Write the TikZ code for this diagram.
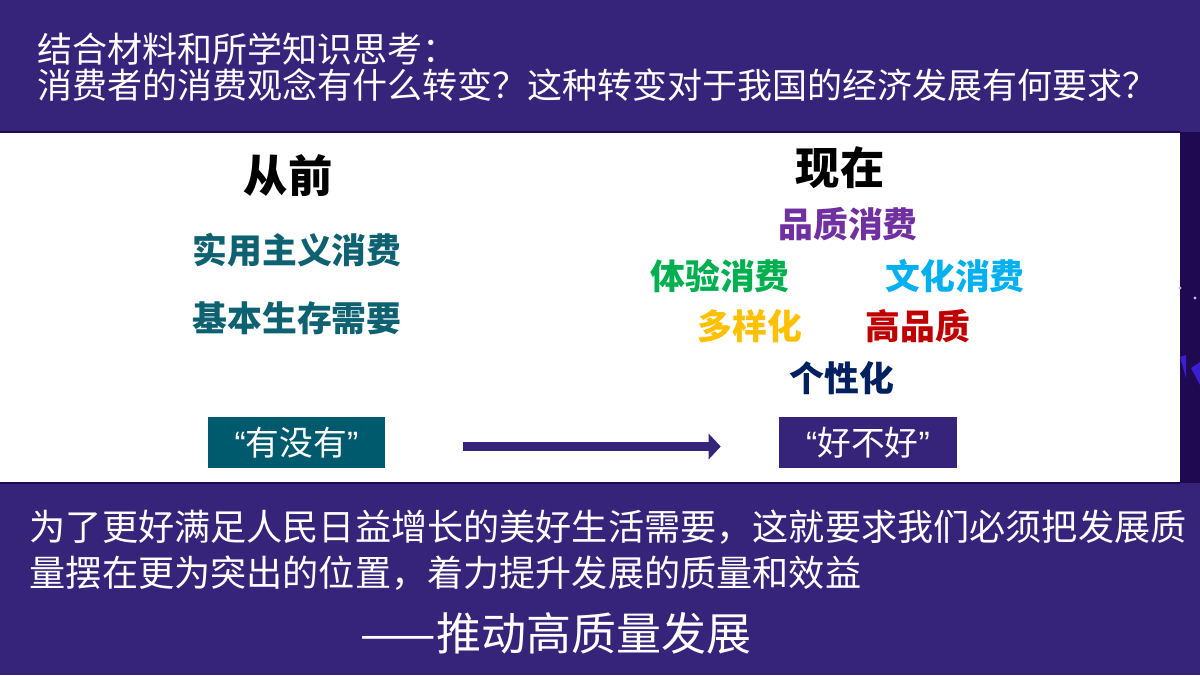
\documentclass[tikz,border=0pt]{standalone}
\usepackage{fontspec}
\usepackage{tikz}
\usepackage{xcolor}
\usetikzlibrary{arrows.meta,positioning}
\newfontfamily\cjk{Noto Sans CJK SC}
\newfontfamily\quotefont{Liberation Sans}
\definecolor{Deep}{HTML}{36237A}
\definecolor{Night}{HTML}{1F0A52}
\definecolor{Teal}{HTML}{005A6E}
\definecolor{TealText}{HTML}{0E6170}
\definecolor{Purple}{HTML}{7030A0}
\definecolor{Green}{HTML}{00B050}
\definecolor{Cyan}{HTML}{00B0F0}
\definecolor{Gold}{HTML}{FFC000}
\definecolor{Red}{HTML}{C00000}
\definecolor{Navy}{HTML}{002060}
\definecolor{Spark}{HTML}{3A1FD0}
\tikzset{
  head/.style={font=\cjk\bfseries\fontsize{12.6pt}{14pt}\selectfont,inner sep=0pt},
  item/.style={font=\cjk\bfseries\fontsize{9.9pt}{12pt}\selectfont,inner sep=0pt},
  tag/.style={font=\cjk\fontsize{9.6pt}{11pt}\selectfont,text=white,minimum width=1.77cm,minimum height=0.51cm,inner sep=0pt}
}

\begin{document}
\begin{tikzpicture}[x=0.01cm,y=-0.01cm]
  \useasboundingbox (0,0) rectangle (1200,675);
  % bands
  \fill[Deep] (0,0) rectangle (1200,132);
  \fill[Deep] (0,483) rectangle (1200,675);
  \fill[white] (0,132) rectangle (1180,483);
  \fill[Night] (1180,132) rectangle (1200,483);
  \draw[Night,line width=0.6pt] (0,132) -- (1180,132);
  \draw[Night,line width=0.6pt] (0,483) -- (1180,483);
  \fill[white!70!violet] (1180,288) circle (1.6);
  \fill[white!70!violet] (1195,298) circle (1.6);
  \fill[Spark] (1180,357) -- (1186,355) -- (1186,378) -- cycle;
  \fill[Spark] (1191,368) -- (1200,362) -- (1200,385) -- cycle;
  % question
  \node[anchor=west,align=left,inner sep=0pt,text=white,font=\cjk\fontsize{9.95pt}{10.25pt}\selectfont] (ask) at (37,67)
  {结合材料和所学知识思考：\\消费者的消费观念有什么转变？这种转变对于我国的经济发展有何要求？};
  % before
  \node[head] (before) at (288,176) {从前};
  \node[item,text=TealText] (practical) at (297,250) {实用主义消费};
  \node[item,text=TealText] (survival) at (297,318) {基本生存需要};
  \node[tag,fill=Teal] (have) at (296.5,442.5) {{\quotefont “}有没有{\quotefont ”}};
  % now
  \node[head] (now) at (840,168) {现在};
  \node[item,text=Purple] (quality) at (848,224) {品质消费};
  \node[item,text=Green] (experience) at (720,276) {体验消费};
  \node[item,text=Cyan] (culture) at (955,276) {文化消费};
  \node[item,text=Gold] (diverse) at (750,326) {多样化};
  \node[item,text=Red] (premium) at (918,326) {高品质};
  \node[item,text=Navy] (personal) at (842,378) {个性化};
  \node[tag,fill=Deep] (good) at (868,442.5) {{\quotefont “}好不好{\quotefont ”}};
  \draw[Deep,line width=2.5pt,-{Triangle[length=0.12cm,width=0.25cm]},shorten <=0.77cm,shorten >=0.58cm]
    ([yshift=-0.04cm]have.east) -- ([yshift=-0.04cm]good.west);
  % answer
  \node[anchor=west,align=left,inner sep=0pt,text=white,font=\cjk\fontsize{10.28pt}{13.1pt}\selectfont] (answer) at (29,550)
  {为了更好满足人民日益增长的美好生活需要，这就要求我们必须把发展质\\量摆在更为突出的位置，着力提升发展的质量和效益};
  \node[inner sep=0pt,text=white,font=\cjk\fontsize{12.8pt}{14pt}\selectfont] (motto) at (556,633) {——推动高质量发展};
\end{tikzpicture}
\end{document}
